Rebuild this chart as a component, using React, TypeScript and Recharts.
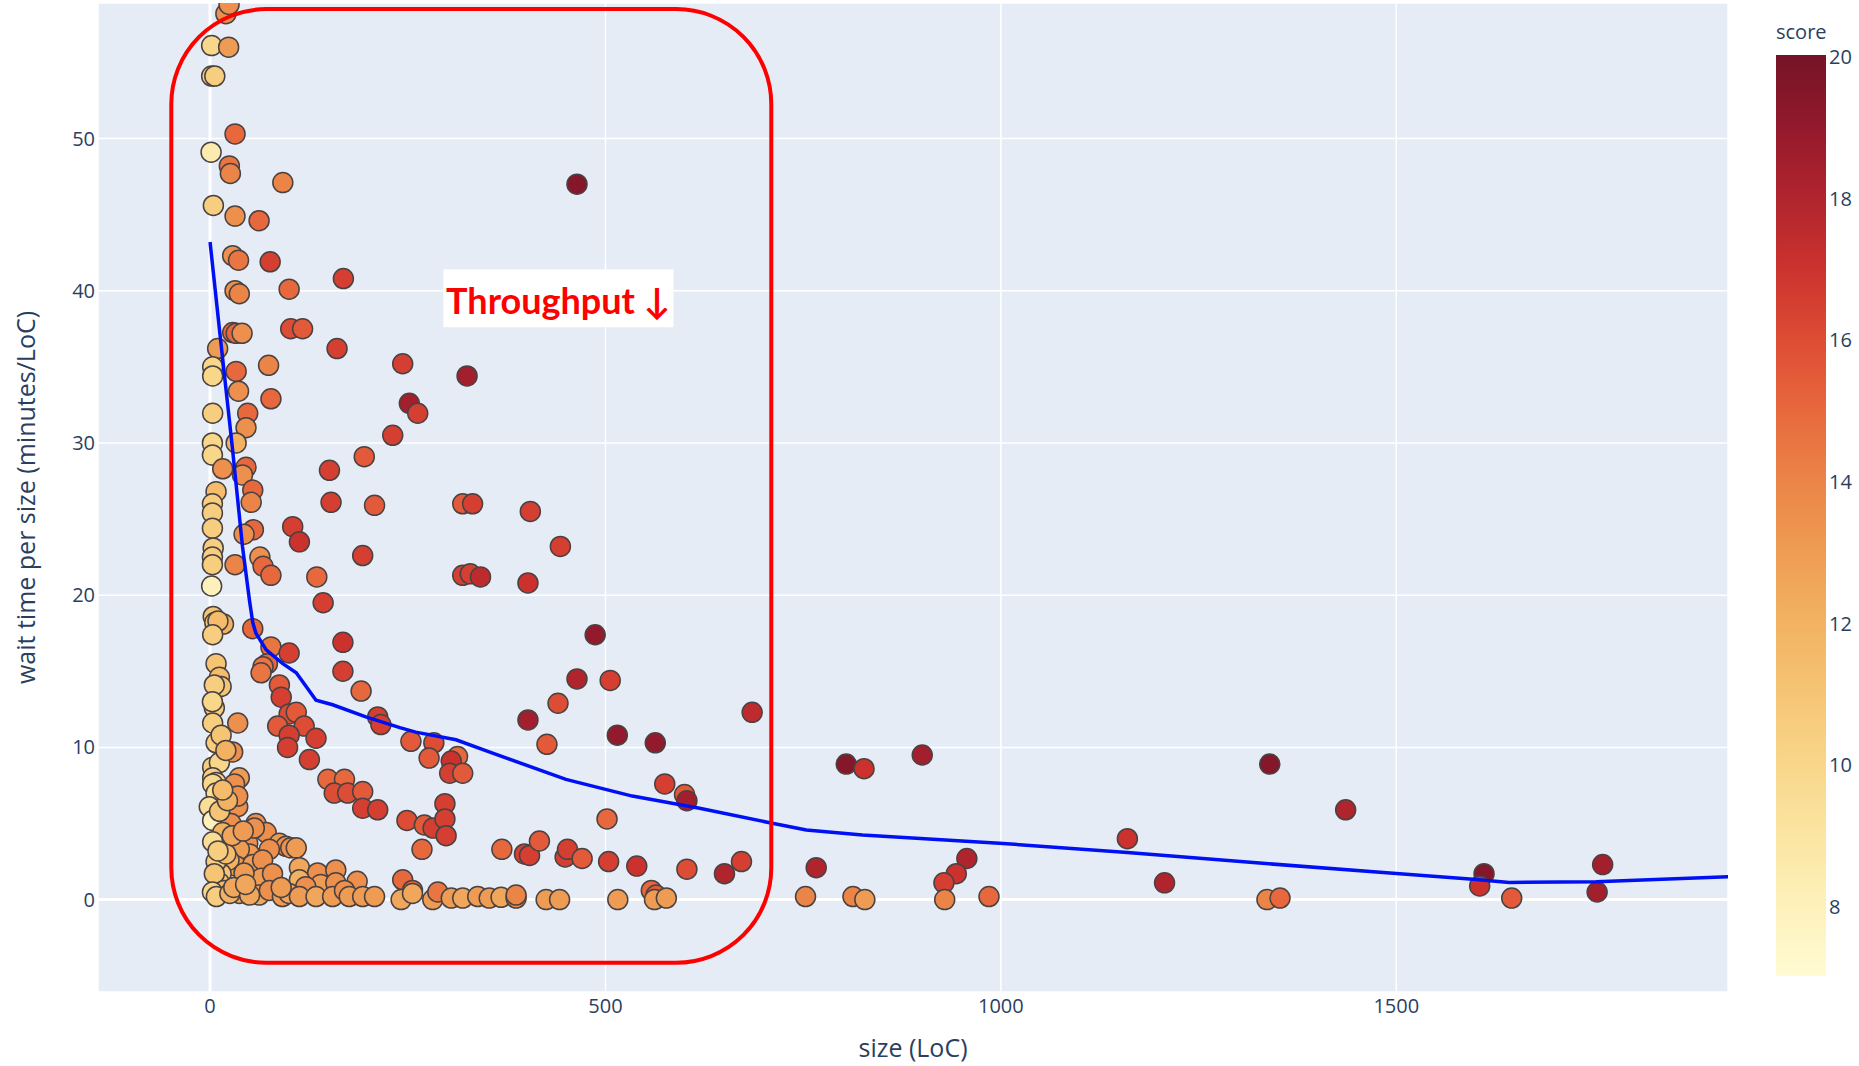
import React from "react";
import {
  ScatterChart,
  Scatter,
  XAxis,
  YAxis,
  CartesianGrid,
  ReferenceLine,
  ReferenceArea,
  Label,
} from "recharts";

// size (LoC) per review
const sizeLoc = [
  20, 24, 2, 23.5, 2, 6, 31.6, 1.3, 24.4, 25.7, 92, 464, 4.2, 31.6, 62, 28.6, 36, 76, 168.6, 31.6,
  37, 100, 28.6, 33, 40.5, 102, 117, 160.6, 9.6, 3.3, 3.3, 33, 74, 36, 77, 243.6, 325, 252, 262.6, 231,
  3.3, 47.6, 45.5, 3, 33, 3, 195, 16, 45.5, 41, 151, 7.6, 54, 52, 3, 3, 153, 208, 319.5, 332,
  405, 3, 54.8, 43, 104.5, 113, 443, 4, 3, 3, 31.6, 63, 67, 77, 193, 135, 319.5, 329, 342, 402,
  2, 143, 4, 6, 17, 10, 3.3, 54, 487, 168, 77, 100, 72.5, 67, 64.5, 7.6, 168, 11.8, 14, 5.4,
  506, 464, 87.7, 90, 191, 440, 685.5, 100, 109, 5.4, 85.5, 35, 119, 212, 216, 3.3, 134, 100, 402, 515,
  563, 254, 283, 426, 7.6, 14, 98, 28.6, 277, 313, 305, 125.6, 303, 319.5, 804.5, 827, 900.6, 1340, 3.3, 11.8,
  3.3, 7.6, 37, 31, 575, 149, 170, 157, 174, 193, 600, 603, 297, 193, 212, 3.3, 7.6, -1, 35, 35,
  1436, 249, 271, 282, 297, 502, 3.3, 26.5, 58, 16, 71, 298.5, 1160, 268, 369, 397.6, 404, 416.5, 449, 452,
  470.5, 504, 539.6, 603, 650.5, 672, 766.5, 957, 943.6, 928, 1207, 1611, 1605.5, 1761, 1754, 3.3, 47.6, 56, 87.7, 96,
  102, 109, 75, 50, 37, 33, 54, 66.5, 24, 14, 7.6, 113, 136, 159, 186, 140, 77, 64.5, 43, 243.6,
  256, 113, 121, 159, 79, 11.8, 5.4, 18, 37, 62, 75, 91.5, 100, 113, 134, 155, 170, 176, 193, 208,
  241.6, 256, 281.6, 288, 305, 319.5, 338.5, 353, 368, 387, 387, 425, 442, 515.6, 558, 564, 562, 577, 753, 813,
  828, 929, 985, 1336.5, 1353, 1646, 3, 8, 25, 30, 50, 20, 10, 12, 22, 28, 42, 45, 90, 3, 20, 16,
];

// wait time per size (minutes/LoC)
const waitTime = [
  58.2, 58.8, 56.1, 56.0, 54.1, 54.1, 50.3, 49.1, 48.2, 47.7, 47.1, 47.0, 45.6, 44.9, 44.6, 42.3, 42.0, 41.9, 40.8, 40.0,
  39.8, 40.1, 37.25, 37.2, 37.2, 37.5, 37.5, 36.2, 36.2, 35.0, 34.4, 34.7, 35.1, 33.4, 32.9, 35.2, 34.4, 32.6, 31.95, 30.5,
  31.95, 31.95, 31.0, 30.0, 30.0, 29.2, 29.1, 28.3, 28.4, 27.9, 28.2, 26.8, 26.9, 26.1, 26.0, 25.4, 26.1, 25.9, 26.0, 26.0,
  25.5, 24.4, 24.3, 24.0, 24.5, 23.5, 23.2, 23.1, 22.5, 22.0, 22.0, 22.5, 21.9, 21.3, 22.6, 21.2, 21.3, 21.4, 21.2, 20.8,
  20.6, 19.5, 18.6, 18.2, 18.1, 18.3, 17.4, 17.8, 17.4, 16.9, 16.6, 16.2, 15.5, 15.3, 14.9, 15.5, 15.0, 14.6, 14.0, 14.1,
  14.4, 14.5, 14.1, 13.3, 13.7, 12.9, 12.3, 12.2, 12.3, 12.6, 11.4, 11.6, 11.4, 12.0, 11.5, 11.6, 10.6, 10.8, 11.8, 10.8,
  10.3, 10.4, 10.3, 10.2, 10.3, 10.8, 10.0, 9.7, 9.3, 9.4, 9.1, 9.2, 8.3, 8.3, 8.9, 8.6, 9.5, 8.9, 8.7, 9.0,
  8.0, 7.7, 8.0, 7.6, 7.6, 7.9, 7.9, 7.0, 7.0, 7.1, 6.9, 6.5, 6.3, 6.0, 5.9, 7.6, 7.0, 6.1, 6.1, 6.8,
  5.9, 5.2, 4.9, 4.7, 5.3, 5.3, 5.2, 5.0, 5.0, 4.4, 4.4, 4.2, 4.0, 3.3, 3.3, 3.0, 2.9, 3.85, 2.8, 3.3,
  2.7, 2.5, 2.2, 2.0, 1.7, 2.5, 2.1, 2.7, 1.7, 1.1, 1.1, 1.7, 0.9, 2.3, 0.5, 3.8, 3.7, 4.7, 3.7, 3.5,
  3.4, 3.4, 3.3, 3.0, 3.3, 2.2, 2.3, 2.6, 2.6, 1.7, 2.5, 2.1, 1.75, 1.95, 1.2, 1.0, 1.4, 1.4, 1.75, 1.3,
  0.6, 1.3, 0.85, 1.1, 1.7, 1.1, 1.7, 0.6, 0.4, 0.3, 0.6, 0.2, 0.4, 0.2, 0.2, 0.2, 0.6, 0.2, 0.2, 0.2,
  0.0, 0.4, 0.0, 0.5, 0.1, 0.1, 0.2, 0.1, 0.15, 0.1, 0.3, 0.0, 0.0, 0.0, 0.6, 0.3, 0.0, 0.1, 0.2, 0.2,
  0.0, 0.0, 0.2, 0.0, 0.1, 0.1, 0.5, 0.2, 0.4, 0.8, 0.3, 3.0, 3.2, 5.8, 6.5, 4.2, 4.5, 1.0, 0.8, 13.0, 9.8, 7.2,
];

// review score (colour)
const score = [
  13.5, 13.5, 10, 13, 10.5, 10.5, 15, 8.5, 14.5, 14, 14, 19.5, 10.5, 13.5, 15, 13.5, 14.5, 16.5, 16.5, 13.5,
  14, 15, 15, 15, 13.5, 16, 15.5, 16.5, 13, 10, 10, 15, 14, 13.5, 15, 16.5, 18.5, 18.5, 16.5, 16.5,
  10.5, 15, 13.5, 10, 12, 10, 15.5, 13.5, 15, 13.5, 16.5, 11.5, 15, 14, 10.5, 10.5, 16.5, 15.5, 15.5, 16.5,
  16.5, 10.5, 15, 13.5, 16.5, 17, 16.5, 10.5, 10.5, 10.5, 14, 13.5, 15, 15, 16.5, 15, 16.5, 16.5, 17.5, 17,
  8, 16.5, 11, 11, 12, 11.5, 10.5, 15, 19, 17, 14.5, 16.5, 15, 14.5, 14.5, 11, 16.5, 11.5, 11, 10.5,
  16.5, 18, 15.5, 16.5, 15, 16, 17.5, 16, 15.5, 10.5, 15.5, 13.5, 16, 16.5, 16.5, 10.5, 16.5, 16.5, 18.5, 19,
  19, 15.5, 16, 15.5, 10.5, 11, 16.5, 13.5, 15.5, 15, 17, 16.5, 16.5, 15.5, 19.5, 17, 18.5, 19.5, 10.5, 10,
  10.5, 10, 13, 13.5, 16.5, 15, 15, 16, 16, 15.5, 15.5, 18.5, 16.5, 16.5, 16.5, 10, 9.5, 9.5, 13.5, 13.5,
  18, 16, 15.5, 16.5, 16.5, 15, 8, 13.5, 13.5, 12, 13.5, 16.5, 17, 15, 15, 16.5, 16.5, 15.5, 16.5, 16.5,
  15.5, 16.5, 17, 16, 18, 16.5, 18, 18, 17, 16.5, 18, 19.5, 17, 18.5, 18.5, 9.5, 13.5, 13.5, 13, 13.5,
  13.5, 13, 13.5, 13, 13, 13, 13, 13.5, 12, 11, 10.5, 12.5, 13.5, 13.5, 13.5, 13, 13, 13, 13, 15,
  15, 12, 13.5, 13.5, 13.5, 11, 11, 11.5, 12.5, 12.5, 13.5, 13, 12.5, 13, 12.5, 13, 13.5, 13, 13, 13,
  12.5, 12.5, 13, 14.5, 13, 12.5, 13, 13, 12.5, 13.5, 14, 13, 13, 13, 15, 15.5, 13, 13, 14, 14,
  13, 14, 15, 14, 15, 15.5, 10, 10.5, 12, 12.5, 12.5, 11.5, 10.5, 11, 12, 12.5, 13, 12.5, 13, 10, 12, 11.5,
];

// smoothed trend
const trendSize = [0, 12, 28, 41, 50, 54, 58, 71, 92, 109, 134, 155, 197, 240, 260, 311, 353, 450, 534, 619, 703, 754, 825, 998, 1160, 1327, 1496, 1597, 1643, 1753, 1920];
const trendWait = [43.2, 37.4, 29.8, 23.2, 19.6, 18.2, 17.5, 16.4, 15.5, 14.9, 13.1, 12.8, 12.0, 11.3, 11.0, 10.5, 9.7, 7.9, 6.8, 6.0, 5.1, 4.57, 4.24, 3.7, 3.1, 2.4, 1.73, 1.33, 1.13, 1.18, 1.5];

const xTicks = [0, 500, 1000, 1500];
const yTicks = [0, 10, 20, 30, 40, 50];
const scoreTicks = [8, 10, 12, 14, 16, 18, 20];
const scoreMin = 7;
const scoreMax = 20;

// YlOrRd as it looks in the picture, one stop per score from 7 to 20
const palette = [
  "#fffbd2", "#fdf1bb", "#fbe5a2", "#f8d68a", "#f5c574", "#f2b262", "#ee9c53",
  "#eb8447", "#e7683d", "#dd4c34", "#cb322e", "#b0242d", "#93192c", "#741426",
];

const points = sizeLoc.map((x, i) => ({ x, y: waitTime[i], score: score[i] }));
const trend = trendSize.map((x, i) => ({ x, y: trendWait[i] }));

function hex(c: string) {
  return [1, 3, 5].map((k) => parseInt(c.slice(k, k + 2), 16));
}

function scoreColor(s: number) {
  const t = ((Math.min(Math.max(s, scoreMin), scoreMax) - scoreMin) / (scoreMax - scoreMin)) * (palette.length - 1);
  const i = Math.min(Math.floor(t), palette.length - 2);
  const f = t - i;
  const a = hex(palette[i]);
  const b = hex(palette[i + 1]);
  const m = a.map((v, k) => Math.round(v + (b[k] - v) * f));
  return `rgb(${m[0]},${m[1]},${m[2]})`;
}

const ink = "#2a3f5f";
const font = '"Open Sans", sans-serif';

const Dot = (p: any) => (
  <circle cx={p.cx} cy={p.cy} r={10} fill={scoreColor(p.payload.score)} stroke="#4a4242" strokeWidth={1.5} />
);

// colour bar geometry
const barX = 1776;
const barTop = 55;
const barBottom = 976;
const barY = (v: number) => barBottom - ((v - scoreMin) / (scoreMax - scoreMin)) * (barBottom - barTop);

export default function App() {
  return (
    <div style={{ position: "absolute", left: 0, top: 0, width: 1859, height: 1066, background: "#fff", fontFamily: font }}>
      <ScatterChart width={1859} height={1066} margin={{ top: 3, right: 131, bottom: 34, left: 38 }}>
        <CartesianGrid fill="#E5ECF6" stroke="#ffffff" strokeWidth={1.5} />
        <XAxis
          type="number"
          dataKey="x"
          domain={[-141.7, 1919.5]}
          ticks={xTicks}
          allowDataOverflow
          height={40}
          tickSize={0}
          tickMargin={7}
          axisLine={false}
          tick={{ fill: ink, fontSize: 20, fontFamily: font }}
        >
          <Label value="size (LoC)" position="center" dy={36} fill={ink} fontSize={25} fontFamily={font} />
        </XAxis>
        <YAxis
          type="number"
          dataKey="y"
          domain={[-6.07, 58.9]}
          ticks={yTicks}
          allowDataOverflow
          width={60}
          tickSize={0}
          tickMargin={3}
          axisLine={false}
          tick={{ fill: ink, fontSize: 20, fontFamily: font }}
        >
          <Label value="wait time per size (minutes/LoC)" angle={-90} position="center" dx={-42} fill={ink} fontSize={25} fontFamily={font} />
        </YAxis>
        <ReferenceLine x={0} stroke="#ffffff" strokeWidth={3} zIndex={-90} />
        <ReferenceLine y={0} stroke="#ffffff" strokeWidth={3} zIndex={-90} />
        <Scatter data={points} shape={Dot} isAnimationActive={false} />
        <Scatter
          data={trend}
          line={{ stroke: "#0010f5", strokeWidth: 3.5 }}
          shape={() => <g />}
          isAnimationActive={false}
        />
        <ReferenceArea
          x1={-49}
          x2={709.7}
          y1={-4.15}
          y2={58.5}
          zIndex={2500}
          shape={(p: any) => (
            <rect x={p.x} y={p.y} width={p.width} height={p.height} rx={95} ry={95} fill="none" stroke="#ff0000" strokeWidth={4} />
          )}
        />
        <ReferenceArea
          x1={295}
          x2={586}
          y1={37.6}
          y2={41.4}
          zIndex={2500}
          shape={(p: any) => (
            <g>
              <rect x={p.x} y={p.y} width={p.width} height={p.height} fill="#ffffff" />
              <text
                x={p.x + p.width / 2}
                y={p.y + p.height - 13}
                textAnchor="middle"
                fill="#ff0000"
                fontSize={36}
                fontWeight={700}
                fontFamily='Lato, "Open Sans", sans-serif'
              >
                Throughput ↓
              </text>
            </g>
          )}
        />
      </ScatterChart>
      <svg width={1859} height={1066} style={{ position: "absolute", left: 0, top: 0, pointerEvents: "none" }}>
        <defs>
          <linearGradient id="scoreBar" x1="0" y1="1" x2="0" y2="0">
            {palette.map((c, i) => (
              <stop key={c} offset={i / (palette.length - 1)} stopColor={c} />
            ))}
          </linearGradient>
        </defs>
        <text x={barX} y={39} fill={ink} fontSize={20} fontFamily={font}>
          score
        </text>
        <rect x={barX} y={barTop} width={50} height={barBottom - barTop} fill="url(#scoreBar)" />
        {scoreTicks.map((v) => (
          <text key={v} x={barX + 53} y={barY(v) + 9} fill={ink} fontSize={20} fontFamily={font}>
            {v}
          </text>
        ))}
      </svg>
    </div>
  );
}
